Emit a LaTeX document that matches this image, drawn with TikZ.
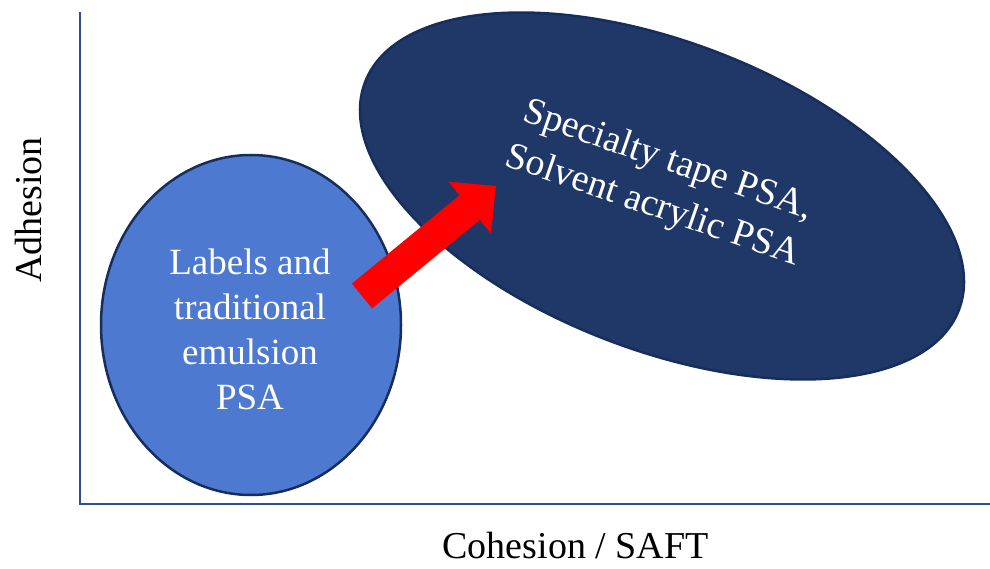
\documentclass[tikz,border=0pt]{standalone}
\usepackage{fontspec}
\setmainfont{Liberation Serif}
\usetikzlibrary{shapes.geometric,arrows.meta}
\definecolor{axisblue}{HTML}{2F4F8F}
\definecolor{lightfill}{HTML}{4D79D0}
\definecolor{darkfill}{HTML}{1F3868}
\definecolor{rimnavy}{HTML}{172E5C}
\begin{document}
\begin{tikzpicture}[x=1pt,y=-1pt,
  axisline/.style={draw=axisblue,line width=2.2pt},
  blob/.style={ellipse,draw=rimnavy,line width=2.5pt,inner sep=0pt},
  bigtext/.style={font=\fontsize{37}{45}\selectfont,align=center,inner sep=0pt},
  axislabel/.style={font=\fontsize{38}{46}\selectfont,inner sep=0pt}]
\useasboundingbox (0,0) rectangle (990,569);

% axes
\coordinate (ytop) at (80,12);
\coordinate (origin) at (80,504);
\coordinate (xend) at (990,504);
\draw[axisline] (ytop) -- (origin) -- (xend);
\node[axislabel,rotate=90] (ylab) at (29,210) {Adhesion};
\node[axislabel] (xlab) at (575.5,545.5) {Cohesion / SAFT};

% regions
\node[blob,fill=lightfill,minimum width=300pt,minimum height=340pt] (labels) at (251,325) {};
\node[bigtext,text=white] (labelstext) at (250,329) {Labels and\\traditional\\emulsion\\PSA};

\node[blob,fill=darkfill,minimum width=636pt,minimum height=308pt,rotate=-21] (specialty) at (662,196) {};
\node[bigtext,text=white,rotate=-19,font=\fontsize{38}{48}\selectfont] (specialtytext) at (660,184) {Specialty tape PSA,\\Solvent acrylic PSA};

% shift arrow
\coordinate (arrowtail) at (362,296);
\coordinate (arrowtip) at (496,186);
\draw[red,line width=32pt,-{Triangle[length=34pt,width=67pt,line width=0pt]}] (arrowtail) -- (arrowtip);
\end{tikzpicture}
\end{document}
